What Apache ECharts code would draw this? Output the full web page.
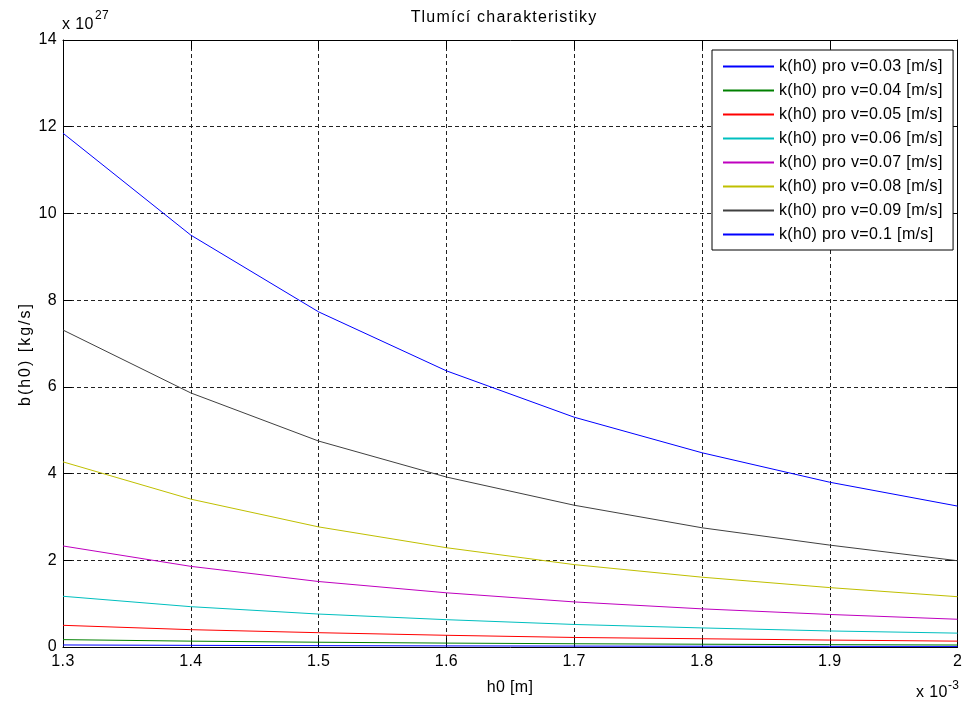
<!DOCTYPE html>
<html>
<head>
<meta charset="utf-8">
<script src="https://cdn.jsdelivr.net/npm/echarts@6/dist/echarts.min.js"></script>
<style>
html,body{margin:0;padding:0;background:#fff;}
#chart{width:965px;height:704px;}
</style>
</head>
<body>
<div id="chart"></div>
<script>
// h0 values (x 10^-3 m)
const hValues = [1.3, 1.4, 1.5, 1.6, 1.7, 1.8, 1.9, 2.0];
// b(h0) values (x 10^27 kg/s)
const b003 = [0.047, 0.038, 0.031, 0.025, 0.021, 0.018, 0.015, 0.013];
const b004 = [0.17, 0.135, 0.11, 0.09, 0.075, 0.064, 0.054, 0.046];
const b005 = [0.50, 0.40, 0.33, 0.27, 0.22, 0.19, 0.16, 0.135];
const b006 = [1.17, 0.93, 0.76, 0.63, 0.52, 0.44, 0.37, 0.32];
const b007 = [2.33, 1.86, 1.51, 1.25, 1.04, 0.88, 0.75, 0.64];
const b008 = [4.27, 3.41, 2.77, 2.29, 1.90, 1.61, 1.37, 1.16];
const b009 = [7.31, 5.86, 4.75, 3.92, 3.27, 2.75, 2.35, 1.99];
const b010 = [11.85, 9.50, 7.73, 6.37, 5.30, 4.48, 3.80, 3.25];

const seriesNames = [
  'k(h0) pro v=0.03 [m/s]', 'k(h0) pro v=0.04 [m/s]', 'k(h0) pro v=0.05 [m/s]',
  'k(h0) pro v=0.06 [m/s]', 'k(h0) pro v=0.07 [m/s]', 'k(h0) pro v=0.08 [m/s]',
  'k(h0) pro v=0.09 [m/s]', 'k(h0) pro v=0.1 [m/s]'
];
const seriesValues = [b003, b004, b005, b006, b007, b008, b009, b010];
const seriesColors = ['#0000ff', '#008000', '#ff0000', '#00bfbf', '#bf00bf', '#bfbf00', '#404040', '#0000ff'];

const titleText = 'Tlumící charakteristiky';
const xName = 'h0 [m]';
const yName = 'b(h0) [kg/s]';

const FONT = '"Liberation Sans", Arial, sans-serif';
const gridLine = {show: true, lineStyle: {color: '#222', width: 1, type: [4, 3]}};

const dom = document.getElementById('chart');
const chart = echarts.init(dom, null, {renderer: 'canvas'});

// emulate the slightly wider glyph advances of the original rendering:
// one canvas layer per letter-spacing value
function spaceLayer(zlevel, px) {
  try {
    const layer = chart.getZr().painter.getLayer(zlevel);
    if (layer && layer.ctx && 'letterSpacing' in layer.ctx) layer.ctx.letterSpacing = px + 'px';
  } catch (e) {}
}
spaceLayer(0, 0.35);
spaceLayer(1, 1.2);
spaceLayer(2, 2.0);

const option = {
  animation: false,
  backgroundColor: '#fff',
  textStyle: {fontFamily: FONT},
  grid: {left: 63, right: 5, top: 40, bottom: 57, containLabel: false},
  xAxis: [{
    type: 'value', min: 1.3, max: 2.0, interval: 0.1, position: 'bottom',
    axisLine: {show: true, onZero: false, lineStyle: {color: '#000', width: 1}},
    axisTick: {show: true, inside: true, length: 9, lineStyle: {color: '#000'}},
    axisLabel: {color: '#000', fontSize: 16, fontFamily: FONT, margin: 7,
      formatter: v => String(Math.round(v * 10) / 10)},
    splitLine: gridLine
  }, {
    type: 'value', min: 1.3, max: 2.0, interval: 0.1, position: 'top',
    axisLine: {show: true, onZero: false, lineStyle: {color: '#000', width: 1}},
    axisTick: {show: true, inside: true, length: 9, lineStyle: {color: '#000'}},
    axisLabel: {show: false}, splitLine: {show: false}
  }],
  yAxis: [{
    type: 'value', min: 0, max: 14, interval: 2, position: 'left',
    axisLine: {show: true, onZero: false, lineStyle: {color: '#000', width: 1}},
    axisTick: {show: true, inside: true, length: 9, lineStyle: {color: '#000'}},
    axisLabel: {color: '#000', fontSize: 16, fontFamily: FONT, margin: 6},
    splitLine: gridLine
  }, {
    type: 'value', min: 0, max: 14, interval: 2, position: 'right',
    axisLine: {show: true, onZero: false, lineStyle: {color: '#000', width: 1}},
    axisTick: {show: true, inside: true, length: 9, lineStyle: {color: '#000'}},
    axisLabel: {show: false}, splitLine: {show: false}
  }],
  legend: {
    orient: 'vertical', left: 712, top: 50,
    padding: [8.5, 18, 7.5, 10],
    itemWidth: 51, itemHeight: 16, itemGap: 8,
    itemStyle: {opacity: 0},
    backgroundColor: '#fff', borderColor: '#000', borderWidth: 1,
    textStyle: {color: '#000', fontSize: 16, fontFamily: FONT},
    data: seriesNames
  },
  series: seriesValues.map((vals, i) => ({
    name: seriesNames[i], type: 'line', xAxisIndex: 0, yAxisIndex: 0,
    symbol: 'none', showSymbol: false, smooth: false,
    lineStyle: {color: seriesColors[i], width: 1},
    itemStyle: {color: seriesColors[i]},
    data: hValues.map((h, j) => [h, vals[j]])
  })),
  graphic: [
    {type: 'text', zlevel: 1, x: 504, y: 18, style: {text: titleText, font: '16px ' + FONT, fill: '#000', textAlign: 'center', textVerticalAlign: 'middle'}},
    {type: 'text', x: 62, y: 25, style: {text: 'x 10', font: '16px ' + FONT, fill: '#000', textAlign: 'left', textVerticalAlign: 'middle'}},
    {type: 'text', x: 95, y: 16, style: {text: '27', font: '12px ' + FONT, fill: '#000', textAlign: 'left', textVerticalAlign: 'middle'}},
    {type: 'text', x: 916, y: 693, style: {text: 'x 10', font: '16px ' + FONT, fill: '#000', textAlign: 'left', textVerticalAlign: 'middle'}},
    {type: 'text', x: 948, y: 686, style: {text: '-3', font: '12px ' + FONT, fill: '#000', textAlign: 'left', textVerticalAlign: 'middle'}},
    {type: 'text', x: 510, y: 688, style: {text: xName, font: '16px ' + FONT, fill: '#000', textAlign: 'center', textVerticalAlign: 'middle'}},
    {type: 'text', zlevel: 2, x: 26, y: 354, rotation: Math.PI / 2, style: {text: yName, font: '16px ' + FONT, fill: '#000', textAlign: 'center', textVerticalAlign: 'middle'}}
  ]
};
chart.setOption(option);
</script>
</body>
</html>
